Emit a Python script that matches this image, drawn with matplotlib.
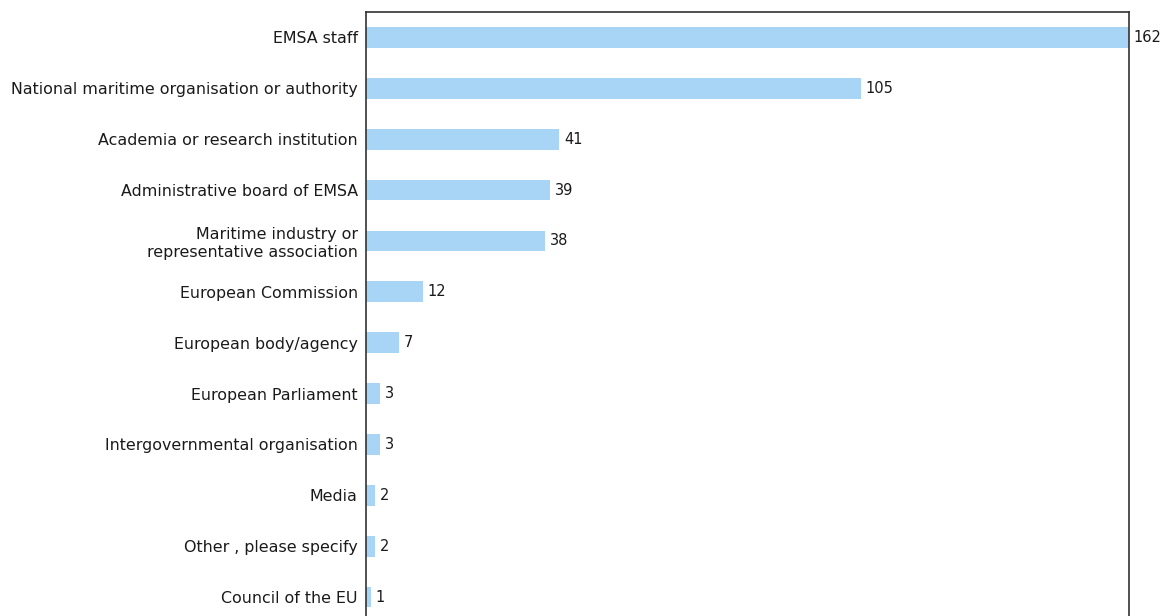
import matplotlib.pyplot as plt

# Respondent categories and counts
categories = [
    "EMSA staff",
    "National maritime organisation or authority",
    "Academia or research institution",
    "Administrative board of EMSA",
    "Maritime industry or\nrepresentative association",
    "European Commission",
    "European body/agency",
    "European Parliament",
    "Intergovernmental organisation",
    "Media",
    "Other , please specify",
    "Council of the EU",
]
counts = [162, 105, 41, 39, 38, 12, 7, 3, 3, 2, 2, 1]

fig = plt.figure(figsize=(11.64, 6.16), dpi=100)
# axes run past the bottom edge, as in the reference crop
ax = fig.add_axes([366 / 1164, -6.5 / 616, 763 / 1164, 610.5 / 616])

y = range(len(categories))
ax.barh(y, counts, height=0.41, color="#a8d4f5")

for i, v in enumerate(counts):
    ax.annotate(str(v), (v, i), xytext=(3.5, 0), textcoords="offset points",
                va="center", ha="left", fontsize=10.5, color="#1a1a1a")

ax.set_yticks(list(y))
ax.set_yticklabels(categories, fontsize=11.4, color="#1a1a1a",
                   linespacing=1.25)
for lbl in ax.get_yticklabels():
    lbl.set_multialignment("right")
ax.tick_params(axis="y", length=0, pad=6)
ax.set_xticks([])
ax.set_xlim(0, 162)
ax.set_ylim(len(categories) - 0.5, -0.5)

for side in ["left", "right", "top", "bottom"]:
    ax.spines[side].set_color("#333333")
    ax.spines[side].set_linewidth(1.2)

fig.savefig("out.png", dpi=100)
